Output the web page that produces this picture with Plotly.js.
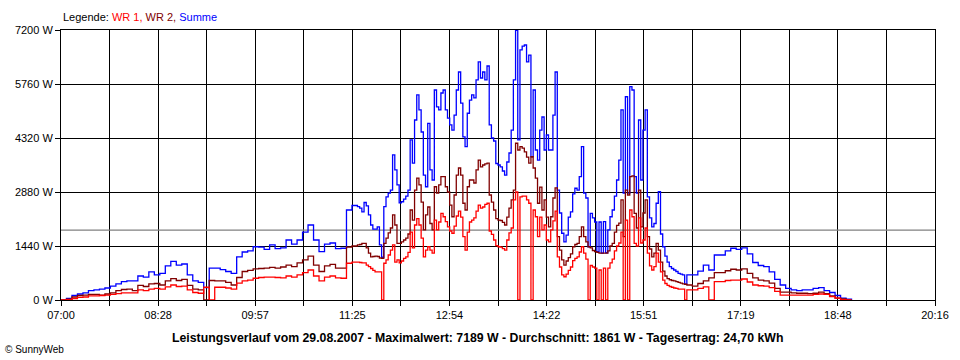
<!DOCTYPE html>
<html><head><meta charset="utf-8">
<script src="https://cdn.plot.ly/plotly-3.0.1.min.js"></script>
<style>html,body{margin:0;padding:0;background:#fff}#chart{width:960px;height:360px}</style>
</head><body><div id="chart"></div>
<script>
const times = [
"07:00","07:05","07:10","07:15","07:20","07:25","07:30","07:35","07:40","07:45","07:50","07:55",
"08:00","08:05","08:10","08:15","08:20","08:25","08:30","08:35","08:40","08:45","08:50","08:55",
"09:00","09:05","09:10","09:15","09:20","09:25","09:30","09:35","09:40","09:45","09:50","09:55",
"10:00","10:05","10:10","10:15","10:20","10:25","10:30","10:35","10:40","10:45","10:50","10:55",
"11:00","11:05","11:10","11:15","11:20","11:25","11:30",
"11:32","11:34","11:36","11:38","11:40","11:42","11:44","11:46","11:48","11:50","11:52","11:54","11:56","11:58",
"12:00","12:02","12:04","12:06","12:08","12:10","12:12","12:14","12:16","12:18","12:20","12:22","12:24","12:26","12:28","12:30","12:32","12:34","12:36","12:38","12:40","12:42","12:44","12:46","12:48","12:50","12:52","12:54","12:56","12:58",
"13:00","13:02","13:04","13:06","13:08","13:10","13:12","13:14","13:16","13:18","13:20","13:22","13:24","13:26","13:28","13:30","13:32","13:34","13:36","13:38","13:40","13:42","13:44","13:46","13:48","13:50","13:52","13:54","13:56","13:58",
"14:00","14:02","14:04","14:06","14:08","14:10","14:12","14:14","14:16","14:18","14:20","14:22","14:24","14:26","14:28","14:30","14:32","14:34","14:36","14:38","14:40","14:42","14:44","14:46","14:48","14:50","14:52","14:54","14:56","14:58",
"15:00","15:02","15:04","15:06","15:08","15:10","15:12","15:14","15:16","15:18","15:20","15:22","15:24","15:26","15:28","15:30","15:32","15:34","15:36","15:38","15:40","15:42","15:44","15:46","15:48","15:50","15:52","15:54","15:56","15:58",
"16:00","16:02","16:04","16:06","16:08","16:10","16:12","16:14","16:16","16:18","16:20","16:22","16:24","16:26","16:28","16:30",
"16:35","16:40","16:45","16:50","16:55",
"17:00","17:05","17:10","17:15","17:20","17:25","17:30","17:35","17:40","17:45","17:50","17:55",
"18:00","18:05","18:10","18:15","18:20","18:25","18:30","18:35","18:40","18:45","18:50","18:55",
"19:00"
];

// WR 1 (red)
const wr1 = [
0,10,40,70,80,110,110,120,130,150,170,190,
190,190,270,250,290,310,290,350,400,360,370,270,
200,180,340,0,340,340,320,290,450,510,530,580,
600,610,610,600,590,640,610,670,730,800,640,510,
610,640,590,580,980,1010,1010,
1000,990,990,930,890,840,790,750,750,750,
0,980,1070,1200,1330,1470,1010,1070,990,1040,
1110,1150,1270,1810,1390,2000,2170,2000,1650,1150,
1330,1420,1330,1250,2130,1870,2080,2310,2220,2090,
1950,1840,1780,1970,2240,2370,2210,1690,1330,1810,
2080,2130,2190,2370,2530,2450,2480,2550,2580,1840,
1750,1600,1450,1420,1410,1370,1330,1600,1790,1920,
2670,2880,0,2750,2770,2770,2670,2580,0,2400,
2220,1690,2210,1870,2000,1600,1550,1870,2110,2370,
1150,880,670,620,690,790,880,1050,1110,1150,
1280,1420,1250,1090,0,920,880,850,0,800,
0,850,0,850,990,1090,1310,1440,1520,1810,
0,2130,0,2400,2220,1510,1440,2190,1520,1600,
1920,1250,910,800,890,1250,1010,750,530,440,
390,360,340,320,310,290,290,290,0,270,
270,310,350,0,490,490,520,530,530,560,
480,400,380,370,330,230,130,130,130,130,
130,130,150,160,150,90,50,10,0,0
];

// WR 2 (dark red)
const wr2 = [
0,20,80,120,130,150,150,130,160,190,250,280,
290,250,390,360,430,440,400,510,570,520,550,390,
290,270,0,520,510,510,470,400,600,760,790,830,
840,850,870,850,880,930,890,990,1070,1170,930,760,
910,950,850,850,1410,1440,1470,
1480,1510,1510,1390,1250,1150,1160,1170,1160,1120,
1110,1510,1650,1790,1920,2270,2000,1510,1510,1550,
1600,1650,1760,2400,2130,2930,3250,3070,2610,1870,
2270,2480,2040,1870,3020,2850,3070,3290,3290,3020,
2880,2530,2220,2800,3330,3520,3330,2580,2400,3020,
3200,3200,3120,3470,3730,3550,3600,3630,3650,2800,
2610,2400,2170,2130,2120,2070,2000,2210,2450,2670,
2930,4180,4000,4090,4050,3950,3810,3650,3820,3520,
3250,2580,3010,2400,2670,2210,1950,2220,2720,2990,
1690,1330,1070,930,1040,1130,1230,1420,1480,1510,
1690,1950,1690,1550,1420,1390,1320,1290,1270,1250,
1250,1250,1250,1310,1440,1510,1810,1990,2050,2670,
1690,2930,2800,3290,3310,2310,1920,2930,1950,2320,
2670,1690,1360,1150,1250,1510,1330,1010,770,640,
570,540,520,510,490,470,450,430,420,400,
370,440,510,590,730,730,780,820,800,830,
710,590,530,510,450,310,210,210,190,180,
180,170,180,210,170,110,50,30,0,0
];

// Summe (blue)
const summe = [
0,40,120,160,190,250,270,290,320,370,430,490,
510,510,640,610,750,670,710,910,1030,930,960,670,
510,470,330,850,850,810,760,710,1150,1280,1310,1420,
1410,1350,1470,1370,1390,1600,1490,1600,1810,2000,1600,1290,
1490,1520,1370,1380,2400,2520,2490,
2450,2350,2600,2510,2270,2000,1890,1890,1950,1470,
1140,2490,2750,2850,2930,3870,3470,3070,2590,2620,
2690,2770,2930,4270,3650,4800,5470,5070,4480,3330,
3020,4710,3470,3200,5600,5150,5070,5520,5600,5070,
4850,4670,4530,4930,5600,6080,5250,4350,4090,4980,
5330,5470,5390,5870,6350,5920,6080,5870,6240,4670,
4320,4240,3640,3600,3550,3440,3330,3680,3920,4530,
5870,7189,4270,6670,6770,6800,6350,6530,3820,5600,
4000,3730,4530,4880,4000,4400,4000,4000,4930,6080,
2930,2320,1780,1550,1730,2210,2350,2830,2980,2930,
3290,4090,2850,2720,1420,2310,2190,2080,1290,2080,
1250,2090,1260,1870,2220,2400,2770,3200,3730,5070,
2850,5420,2850,5690,5600,3290,2850,4800,3200,4530,
5070,2750,2190,1950,2040,2580,2890,1760,1420,1170,
1010,890,840,800,760,710,690,670,420,670,
670,770,930,800,1200,1200,1310,1380,1350,1390,
1230,1000,920,890,750,550,400,310,270,250,
270,270,310,330,250,200,120,50,20,0
];

const average = 1861;
const xStart = "07:00", xEnd = "20:16";
const xTickLabels = ["07:00","08:28","09:57","11:25","12:54","14:22","15:51","17:19","18:48","20:16"];
const yTickValues = [0,1440,2880,4320,5760,7200];
const titleText = "Leistungsverlauf vom 29.08.2007 - Maximalwert: 7189 W - Durchschnitt: 1861 W - Tagesertrag: 24,70 kWh";
const legendText = 'Legende: <span style="color:#ff0000">WR 1,</span> <span style="color:#800000">WR 2,</span> <span style="color:#0000ff">Summe</span>';
const copyrightText = "© SunnyWeb";

function toMin(t){const p=t.split(":");return parseInt(p[0],10)*60+parseInt(p[1],10);}
const xs = times.map(toMin);
const x0 = toMin(xStart), x1 = toMin(xEnd);

const tickVals = [], tickText = [];
const nHalf = (xTickLabels.length - 1) * 2;
for (let k = 0; k <= nHalf; k++) {
  tickVals.push(x0 + k * (x1 - x0) / nHalf);
  tickText.push(k % 2 === 0 ? xTickLabels[k / 2] : "");
}

const font = {family: "Liberation Sans, Arial, sans-serif", size: 11, color: "#000"};

const traces = [
  {x: [x0, x1], y: [average, average], mode: "lines", line: {color: "#808080", width: 1.2}, hoverinfo: "skip"},
  {x: xs, y: summe, mode: "lines", line: {color: "#0000ff", width: 1.3, shape: "hv"}, name: "Summe"},
  {x: xs, y: wr2, mode: "lines", line: {color: "#800000", width: 1.3, shape: "hv"}, name: "WR 2"},
  {x: xs, y: wr1, mode: "lines", line: {color: "#ff0000", width: 1.3, shape: "hv"}, name: "WR 1"}
];

const layout = {
  width: 960, height: 360,
  margin: {l: 61, r: 25, t: 30, b: 60},
  paper_bgcolor: "#fff", plot_bgcolor: "#fff",
  showlegend: false,
  font: font,
  xaxis: {
    range: [x0, x1], tickmode: "array", tickvals: tickVals, ticktext: tickText,
    showgrid: true, gridcolor: "#000", gridwidth: 1, zeroline: false,
    showline: true, linecolor: "#000", linewidth: 1, mirror: true,
    ticks: "outside", ticklen: 5, tickcolor: "#000", tickfont: font
  },
  yaxis: {
    range: [0, 7200], tickmode: "array", tickvals: yTickValues, ticktext: yTickValues.map(v => v + " W"),
    showgrid: true, gridcolor: "#000", gridwidth: 1, zeroline: false,
    showline: true, linecolor: "#000", linewidth: 1, mirror: true,
    ticks: "outside", ticklen: 5, tickcolor: "#000", tickfont: font
  },
  annotations: [
    {xref: "paper", yref: "paper", x: 0, y: 1.048, xanchor: "left", yanchor: "middle", showarrow: false,
     text: legendText, font: font},
    {xref: "paper", yref: "paper", x: 0.4771, y: -0.1407, xanchor: "center", yanchor: "middle", showarrow: false,
     text: "<b>" + titleText + "</b>", font: {family: "Liberation Sans, Arial, sans-serif", size: 12.3, color: "#000"}},
    {xref: "paper", yref: "paper", x: -0.0664, y: -0.1815, xanchor: "left", yanchor: "middle", showarrow: false,
     text: copyrightText, font: {family: "Liberation Sans, Arial, sans-serif", size: 10, color: "#000"}}
  ]
};

Plotly.newPlot("chart", traces, layout, {staticPlot: true, displayModeBar: false});
</script>
</body></html>
